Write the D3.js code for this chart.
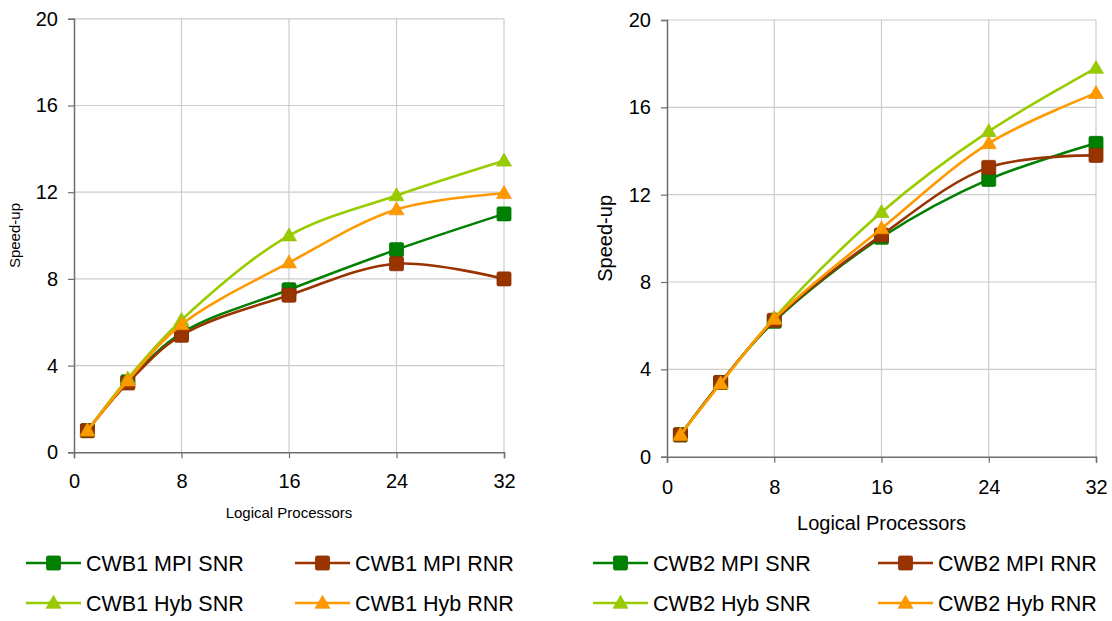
<!DOCTYPE html>
<html lang="en">
<head>
<meta charset="UTF-8"/>
<title>Speed-up vs Logical Processors</title>
<script src="https://d3js.org/d3.v7.min.js"></script>
<style>
  body { margin: 0; background: #fff; }
  svg { display: block; font-family: "Liberation Sans", Arial, sans-serif; }
</style>
</head>
<body>
<script>
// processor counts on the x axis
var procs = [1, 4, 8, 16, 24, 32];
var xTicks = [0, 8, 16, 24, 32];
var yTicks = [0, 4, 8, 12, 16, 20];

// speed-up, first case
var cwb1MpiSnr = [1.0, 3.25, 5.5, 7.5, 9.35, 11.0];
var cwb1MpiRnr = [1.0, 3.2, 5.4, 7.25, 8.7, 8.0];
var cwb1HybSnr = [1.0, 3.4, 6.1, 10.0, 11.85, 13.45];
var cwb1HybRnr = [1.0, 3.3, 5.9, 8.75, 11.2, 11.95];

// speed-up, second case
var cwb2MpiSnr = [1.0, 3.4, 6.2, 10.05, 12.7, 14.35];
var cwb2MpiRnr = [1.0, 3.4, 6.25, 10.15, 13.25, 13.8];
var cwb2HybSnr = [1.0, 3.35, 6.35, 11.2, 14.9, 17.8];
var cwb2HybRnr = [1.0, 3.35, 6.3, 10.45, 14.35, 16.65];

var names1 = ["CWB1 MPI SNR", "CWB1 MPI RNR", "CWB1 Hyb SNR", "CWB1 Hyb RNR"];
var names2 = ["CWB2 MPI SNR", "CWB2 MPI RNR", "CWB2 Hyb SNR", "CWB2 Hyb RNR"];

var colors = ["#008000", "#993300", "#99cc00", "#ff9900"];
var shapes = ["square", "square", "triangle", "triangle"];

var w = 1112;
var h = 621;

var svg = d3.select("body")
            .append("svg")
            .attr("width", w)
            .attr("height", h);

var panels = [
    { series: [cwb1MpiSnr, cwb1MpiRnr, cwb1HybSnr, cwb1HybRnr], names: names1,
      x0: 74, x1: 504, y0: 452.3, y1: 18.8,
      xLabelY: 488, titleFont: 15, titleY: 518, yTitleX: 20,
      legendX: [26, 295] },
    { series: [cwb2MpiSnr, cwb2MpiRnr, cwb2HybSnr, cwb2HybRnr], names: names2,
      x0: 667, x1: 1096, y0: 456.7, y1: 20,
      xLabelY: 494, titleFont: 20, titleY: 530, yTitleX: 612,
      legendX: [593, 878] }
];

function drawMarker(g, shape, color, cx, cy, size) {
    if (shape === "square") {
        g.append("rect")
         .attr("x", cx - size / 2)
         .attr("y", cy - size / 2)
         .attr("width", size)
         .attr("height", size)
         .attr("rx", 1.5)
         .attr("fill", color)
         .attr("stroke", d3.color(color).darker(0.3))
         .attr("stroke-width", 0.8);
    } else {
        var s = size + 1;
        var tri = d3.symbol().type(d3.symbolTriangle).size(s * s * 0.433)();
        g.append("path")
         .attr("d", tri)
         .attr("transform", "translate(" + cx + "," + (cy + 1) + ")")
         .attr("fill", color)
         .attr("stroke", d3.color(color).darker(0.2))
         .attr("stroke-width", 0.6);
    }
}

panels.forEach(function(p) {
    var xScale = d3.scaleLinear().domain([0, 32]).range([p.x0, p.x1]);
    var yScale = d3.scaleLinear().domain([0, 20]).range([p.y0, p.y1]);

    // grid lines
    svg.append("g")
       .selectAll("line.vg")
       .data(xTicks.slice(1))
       .enter()
       .append("line")
       .attr("x1", function(d) { return xScale(d); })
       .attr("x2", function(d) { return xScale(d); })
       .attr("y1", yScale(0))
       .attr("y2", yScale(20))
       .attr("stroke", "#cccccc")
       .attr("stroke-width", 1.2);

    svg.append("g")
       .selectAll("line.hg")
       .data(yTicks.slice(1))
       .enter()
       .append("line")
       .attr("x1", xScale(0))
       .attr("x2", xScale(32))
       .attr("y1", function(d) { return yScale(d); })
       .attr("y2", function(d) { return yScale(d); })
       .attr("stroke", "#cccccc")
       .attr("stroke-width", 1.2);

    // axes
    var xAxis = d3.axisBottom(xScale).tickValues(xTicks).tickSize(6).tickFormat(d3.format("d"));
    var yAxis = d3.axisLeft(yScale).tickValues(yTicks).tickSize(6).tickPadding(10).tickFormat(d3.format("d"));

    var gx = svg.append("g")
                .attr("transform", "translate(0," + p.y0 + ")")
                .call(xAxis);
    gx.selectAll("text")
      .attr("y", p.xLabelY - p.y0)
      .attr("dy", null);

    var gy = svg.append("g")
                .attr("transform", "translate(" + p.x0 + ",0)")
                .call(yAxis);

    [gx, gy].forEach(function(g) {
        g.select(".domain").attr("stroke", "#6e6e6e").attr("stroke-width", 1.5);
        g.selectAll(".tick line").attr("stroke", "#6e6e6e").attr("stroke-width", 1.2);
        g.selectAll("text")
         .attr("fill", "#000")
         .style("font-size", "20px")
         .style("font-family", "'Liberation Sans', Arial, sans-serif");
    });

    // axis titles
    svg.append("text")
       .attr("text-anchor", "middle")
       .attr("x", (p.x0 + p.x1) / 2)
       .attr("y", p.titleY)
       .style("font-size", p.titleFont + "px")
       .text("Logical Processors");

    svg.append("text")
       .attr("text-anchor", "middle")
       .attr("transform", "rotate(-90)")
       .attr("x", -(p.y0 + p.y1) / 2)
       .attr("y", p.yTitleX)
       .style("font-size", p.titleFont + "px")
       .text("Speed-up");

    var line = d3.line()
                 .x(function(d, i) { return xScale(procs[i]); })
                 .y(function(d) { return yScale(d); })
                 .curve(d3.curveCatmullRom.alpha(0.5));

    p.series.forEach(function(vals, k) {
        var g = svg.append("g");
        g.append("path")
         .datum(vals)
         .attr("d", line)
         .attr("fill", "none")
         .attr("stroke", colors[k])
         .attr("stroke-width", 2.6);
        vals.forEach(function(v, i) {
            drawMarker(g, shapes[k], colors[k], xScale(procs[i]), yScale(v), 14);
        });
    });

    // legend, two rows of two
    p.names.forEach(function(name, k) {
        var lx = p.legendX[k % 2];
        var ly = k < 2 ? 563 : 603;
        var g = svg.append("g");
        g.append("line")
         .attr("x1", lx)
         .attr("x2", lx + 55)
         .attr("y1", ly)
         .attr("y2", ly)
         .attr("stroke", colors[k])
         .attr("stroke-width", 2.6);
        drawMarker(g, shapes[k], colors[k], lx + 27.5, ly, 14);
        g.append("text")
         .attr("x", lx + 60)
         .attr("y", ly + 8)
         .style("font-size", "21.5px")
         .text(name);
    });
});
</script>
</body>
</html>
